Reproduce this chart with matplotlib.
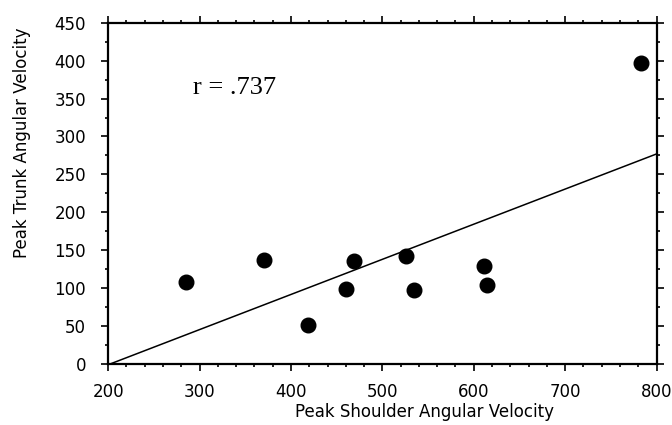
import matplotlib
matplotlib.use("Agg")
import matplotlib.pyplot as plt
from matplotlib.ticker import MultipleLocator

# valeurs
shoulder = [285, 370, 419, 460, 469, 526, 535, 611, 615, 783]
trunk = [108, 137, 51, 99, 136, 143, 98, 129, 104, 397]
fit_x = [202, 800]
fit_y = [0, 277]
x_ticks = [200, 300, 400, 500, 600, 700, 800]
y_ticks = [0, 50, 100, 150, 200, 250, 300, 350, 400, 450]

plt.rcParams['font.family'] = ['DejaVu Sans']

fig = plt.figure(figsize=(6.72, 4.25), dpi=100)
ax = fig.add_axes([0.161, 0.1435, 0.816, 0.803])

ax.plot(fit_x, fit_y, color='black', linewidth=1.1)
ax.plot(shoulder, trunk, 'o', color='black', markersize=10.5, clip_on=False)

ax.set_xlim(200, 800)
ax.set_ylim(0, 450)
ax.set_xticks(x_ticks)
ax.set_yticks(y_ticks)
ax.xaxis.set_minor_locator(MultipleLocator(20))
ax.yaxis.set_minor_locator(MultipleLocator(25))
ax.tick_params(which='both', direction='out', top=True, right=True,
               width=1.2, labelsize=12)
ax.tick_params(axis='x', pad=9)
ax.tick_params(axis='y', pad=11)
ax.tick_params(which='major', length=5)
ax.tick_params(which='minor', length=2.5)
for sp in ax.spines.values():
    sp.set_linewidth(1.6)

ax.set_xlabel('Peak Shoulder Angular Velocity', fontsize=12, va='top')
ax.set_ylabel('Peak Trunk Angular Velocity', fontsize=12)
ax.xaxis.set_label_coords(0.577, -0.115)
ax.yaxis.set_label_coords(-0.14, 0.648)

ax.text(293, 364, 'r = .737', family='Liberation Serif', fontsize=19,
        ha='left', va='center')

fig.savefig('out.png', dpi=100)
